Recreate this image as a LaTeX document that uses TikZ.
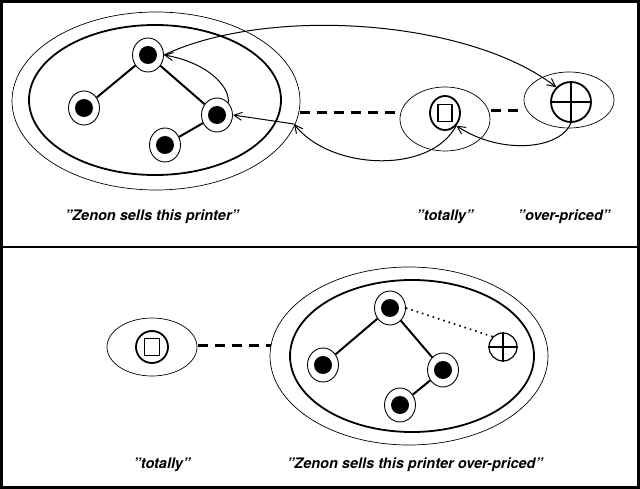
\documentclass[tikz,border=0pt]{standalone}
\usepackage{fontspec}
\setmainfont{TeX Gyre Heros}
\usetikzlibrary{shapes.geometric,arrows.meta}
\begin{document}
\begin{tikzpicture}[x=1pt,y=-1pt,
  thinell/.style={draw,ellipse,line width=0.7pt,inner sep=0pt},
  vnode/.style={draw,ellipse,line width=0.9pt,minimum width=31pt,minimum height=34pt,inner sep=0pt},
  dot/.style={fill=black,circle,minimum size=18pt,inner sep=0pt},
  edgeln/.style={line width=2pt},
  dashln/.style={line width=3pt,dash pattern=on 10pt off 7pt},
  arr/.style={line width=1pt,-{Straight Barb[length=8pt,width=8pt]}},
  lab/.style={font=\fontsize{14.5}{16}\selectfont\bfseries\itshape}]
\useasboundingbox (0,0) rectangle (640,489);
\draw[line width=3pt] (1.5,1.5) rectangle (638.5,487.5);
\draw[line width=2pt] (0,247) -- (640,247);
% ---------- top ----------
\draw[line width=0.7pt] (156,101) ellipse [x radius=144,y radius=89];
\draw[line width=1.8pt] (155,100) ellipse [x radius=126,y radius=75];
\foreach \n/\p in {t/{(148,55)},l/{(84,108)},r/{(217,115)},b/{(165,145)}}{
  \node[vnode] (\n) at \p {}; \node[dot] at \p {};}
\draw[edgeln] (t) -- (l); \draw[edgeln] (t) -- (r); \draw[edgeln] (r) -- (b);
\node[thinell,minimum width=90pt,minimum height=64pt] (tot) at (445,119) {};
\node[draw,ellipse,line width=1.8pt,minimum width=30pt,minimum height=34pt,inner sep=0pt] (toti) at (445,113) {};
\node[draw,line width=1.5pt,minimum width=14pt,minimum height=17pt,inner sep=0pt] (tots) at (445,113) {};
\node[thinell,minimum width=90pt,minimum height=56pt] (ov) at (569,100) {};
\node[draw,ellipse,line width=1.8pt,minimum width=40pt,minimum height=40pt,inner sep=0pt] (ovi) at (571,102) {};
\draw[line width=1.5pt] (ovi.north) -- (ovi.south) (ovi.west) -- (ovi.east);
\coordinate (d1) at (300,113); \coordinate (d2) at (398,113);
\draw[dashln] (d1) -- (d2);
\coordinate (d3) at (491,111); \coordinate (d4) at (525,111);
\draw[dashln] (d3) -- (d4);
\coordinate (m) at (294,124);
\draw[arr] (t.east) .. controls (270,5) and (470,20) .. (ovi.north west);
\draw[arr] (r.north east) .. controls (230,85) and (205,62) .. (t.east);
\draw[arr] (m) -- (r.east);
\draw[arr] (toti.south east) .. controls (430,175) and (330,170) .. (m);
\draw[arr] (ovi.south) .. controls (560,150) and (500,155) .. (toti.south east);
\node[lab] (l1) at (152,217) {"Zenon sells this printer"};
\node[lab] (l2) at (445,217) {"totally"};
\node[lab] (l3) at (564,217) {"over-priced"};
% ---------- bottom ----------
\node[thinell,minimum width=90pt,minimum height=58pt] (tot2) at (152,347) {};
\node[draw,circle,line width=1.8pt,minimum size=32pt,inner sep=0pt] (toti2) at (152,347) {};
\node[draw,line width=1.5pt,minimum width=15pt,minimum height=17pt,inner sep=0pt] (tots2) at (152,347) {};
\draw[line width=0.7pt] (409,356) ellipse [x radius=139,y radius=89];
\draw[line width=1.8pt] (412,356) ellipse [x radius=122,y radius=76];
\coordinate (d5) at (198,345); \coordinate (d6) at (271,345);
\draw[dashln] (d5) -- (d6);
\foreach \n/\p in {t2/{(390,308)},l2n/{(323,365)},r2/{(443,370)},b2/{(400,405)}}{
  \node[vnode] (\n) at \p {}; \node[dot] at \p {};}
\draw[edgeln] (t2) -- (l2n); \draw[edgeln] (t2) -- (r2); \draw[edgeln] (r2) -- (b2);
\node[draw,circle,line width=1.2pt,minimum size=28pt,inner sep=0pt] (p2) at (503,347) {};
\draw[line width=1.2pt] (p2.north) -- (p2.south) (p2.west) -- (p2.east);
\draw[line width=1.6pt,dash pattern=on 1.6pt off 4pt] (t2.east) -- (p2.north west);
\node[lab] (l4) at (162,465) {"totally"};
\node[lab] (l5) at (415,465) {"Zenon sells this printer over-priced"};
\end{tikzpicture}
\end{document}
